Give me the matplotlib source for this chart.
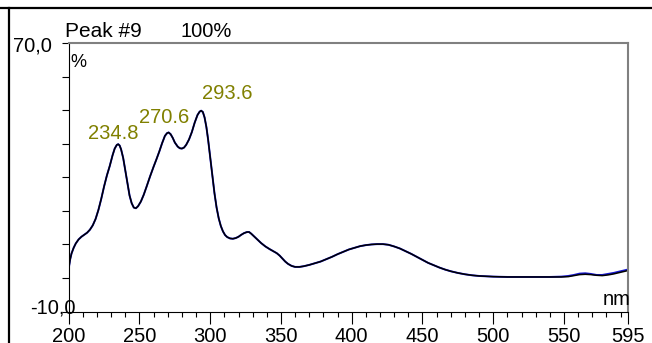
import matplotlib
matplotlib.use("Agg")
import matplotlib.pyplot as plt
from matplotlib.lines import Line2D
from matplotlib.ticker import MultipleLocator, FixedLocator

plt.rcParams["font.family"] = ["Liberation Sans", "DejaVu Sans"]

W, H = 652, 343
OLIVE = "#808000"
GREY = "#808080"

# spectrum of peak #9 (nm, %)
wavelength = [200, 201, 202, 203.5, 205, 207, 209, 211, 213, 215, 217, 219,
              221, 223, 225, 227, 229, 231, 232.5, 234, 235, 236, 237, 238.5,
              240, 241.5, 243, 244.5, 246, 247.5, 249, 251, 253, 255, 257.5, 260,
              262, 264, 266, 268, 269.5, 270.6, 272, 273.5, 275, 277, 278.5, 280,
              281.5, 283, 285, 287, 289, 291, 292.5, 293.6, 294.8, 296, 297.3, 298.5,
              300, 301.5, 303, 304.5, 306, 307.5, 309, 310.5, 312, 314, 316, 318,
              320, 322, 324, 326, 327.5, 329, 331, 333.5, 336, 339, 342, 345,
              347, 349, 351, 353, 355, 357.5, 360, 363, 366, 370, 374, 378,
              382, 386, 390, 394, 398, 402, 406, 410, 414, 418, 422, 426,
              430, 434, 438, 442, 446, 450, 454, 458, 462, 466, 470, 475,
              480, 485, 490, 495, 500, 510, 520, 530, 540, 548, 553, 557,
              561, 565, 569, 573, 577, 581, 585, 589, 592, 595]
signal = [2.8, 5.5, 7.3, 9.0, 10.3, 11.5, 12.3, 12.9, 13.5, 14.4, 15.7, 17.6,
          20.3, 23.6, 27.3, 30.6, 33.4, 36.6, 38.6, 39.7, 39.9, 39.5, 38.4, 35.8,
          32.0, 28.0, 24.6, 22.3, 21.0, 20.8, 21.4, 22.8, 24.8, 27.2, 30.3, 33.2,
          35.4, 37.7, 40.2, 42.4, 43.2, 43.4, 42.9, 41.8, 40.4, 39.2, 38.7, 38.6,
          38.9, 39.7, 41.3, 43.5, 46.3, 48.6, 49.6, 49.9, 49.5, 47.9, 45.0, 41.3,
          36.0, 30.5, 25.3, 21.0, 17.8, 15.5, 13.9, 12.8, 12.2, 11.8, 11.7, 11.9,
          12.3, 12.9, 13.4, 13.7, 13.7, 13.2, 12.4, 11.4, 10.4, 9.4, 8.6, 7.9,
          7.4, 6.7, 5.8, 4.9, 4.2, 3.6, 3.3, 3.3, 3.5, 3.9, 4.4, 4.9,
          5.6, 6.3, 7.1, 7.8, 8.5, 9.0, 9.5, 9.8, 10.0, 10.1, 10.1, 9.9,
          9.4, 8.8, 8.0, 7.2, 6.3, 5.4, 4.5, 3.8, 3.1, 2.5, 2.0, 1.5,
          1.1, 0.8, 0.6, 0.5, 0.4, 0.3, 0.3, 0.3, 0.3, 0.3, 0.4, 0.7,
          1.0, 1.1, 1.0, 0.8, 0.7, 0.9, 1.2, 1.6, 1.9, 2.2]

# second trace only departs from the first in the red tail
ref_tail_wl = [548, 553, 557, 561, 565, 569, 573, 577, 581, 585, 589, 592, 595]
ref_tail = [0.4, 0.6, 0.9, 1.3, 1.4, 1.2, 0.9, 0.9, 1.2, 1.5, 1.9, 2.2, 2.5]

peak_nm = [234.8, 270.6, 293.6]
peak_val = [39.9, 43.4, 49.9]
peak_offsets = [(-30, 5), (-30, 9), (1, 12)]   # pixels

x_major = [200, 250, 300, 350, 400, 450, 500, 550, 595]


def fx(px):
    return px / W


def fy(py):
    return 1 - py / H


fig = plt.figure(figsize=(W / 100, H / 100), dpi=100, facecolor="white")
ax = fig.add_axes([fx(68.7), fy(311.5), fx(627.7) - fx(68.7), fy(43.3) - fy(311.5)])

n_keep = wavelength.index(ref_tail_wl[0])
ref_wl = wavelength[:n_keep] + ref_tail_wl
ref_sig = signal[:n_keep] + ref_tail
ax.plot(ref_wl, ref_sig, color="#1515d0", lw=1.4, solid_joinstyle="round")
ax.plot(wavelength, signal, color="black", lw=1.1, solid_joinstyle="round")

for nm, v, (dx, dy) in zip(peak_nm, peak_val, peak_offsets):
    ax.annotate(f"{nm:.1f}", (nm, v), xytext=(dx, dy), textcoords="offset pixels",
                ha="left", va="baseline", color=OLIVE, fontsize=14.5)

ax.set_xlim(200, 595)
ax.set_ylim(-10, 70)
ax.xaxis.set_major_locator(FixedLocator(x_major))
ax.xaxis.set_minor_locator(MultipleLocator(10))
ax.yaxis.set_major_locator(MultipleLocator(10))
ax.set_yticklabels([])
ax.tick_params(axis="x", which="major", direction="out", length=8.5, width=0.8,
               pad=3, labelsize=14.5)
ax.tick_params(axis="x", which="minor", direction="out", length=3.6, width=0.8)
ax.tick_params(axis="y", which="major", direction="out", length=5, width=0.8)

for side in ("left", "bottom"):
    ax.spines[side].set_color("black")
    ax.spines[side].set_linewidth(0.8)
for side in ("top", "right"):
    ax.spines[side].set_color(GREY)
    ax.spines[side].set_linewidth(1.5)

# axis annotations
fig.text(fx(52), fy(51), "70,0", ha="right", va="baseline", fontsize=14.5)
fig.text(fx(76), fy(314), "-10,0", ha="right", va="baseline", fontsize=14.5)
fig.text(fx(70), fy(67), "%", ha="left", va="baseline", fontsize=13)
fig.text(fx(631), fy(305), "nm", ha="right", va="baseline", fontsize=14.5)
fig.text(fx(65), fy(37), "Peak #9", ha="left", va="baseline", fontsize=15)
fig.text(fx(181), fy(37), "100%", ha="left", va="baseline", fontsize=14.5)

# panel frame
fig.add_artist(Line2D([0, 1], [fy(7.7), fy(7.7)], transform=fig.transFigure,
                      color="black", lw=1.6))
fig.add_artist(Line2D([fx(9), fx(9)], [0, fy(7.7)], transform=fig.transFigure,
                      color="black", lw=1.6))

fig.savefig("out.png", dpi=100, facecolor="white")
